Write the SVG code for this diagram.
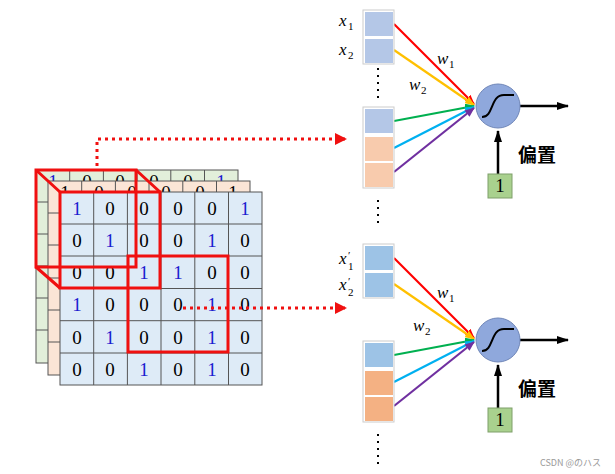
<svg xmlns="http://www.w3.org/2000/svg" width="615" height="474" viewBox="0 0 615 474">
<defs>
<style>
.d{font-family:"Liberation Serif",serif;font-size:19px;text-anchor:middle}
.b{fill:#1a1ad0}
.g{stroke:#555;stroke-width:1}
.v{font-family:"Liberation Serif",serif;font-style:italic;font-size:17px}
.s{font-family:"Liberation Serif",serif;font-size:11px}
.cn{font-family:"Noto Sans CJK SC",sans-serif;font-size:19px;font-weight:bold}
.rd{fill:none;stroke:#f01010;stroke-width:3}
.dot{fill:none;stroke:#f01010;stroke-width:3;stroke-dasharray:3 4}
</style>
<marker id="ah" markerWidth="10" markerHeight="8" refX="9" refY="4" orient="auto" markerUnits="userSpaceOnUse"><path d="M0,0L10,4L0,8z" fill="context-stroke"/></marker>
<marker id="ab" markerWidth="12" markerHeight="8" refX="11" refY="4" orient="auto" markerUnits="userSpaceOnUse"><path d="M0,0L12,4L0,8z" fill="#000"/></marker>
<marker id="ar" markerWidth="12" markerHeight="12" refX="10" refY="6" orient="auto" markerUnits="userSpaceOnUse"><path d="M0,0L12,6L0,12z" fill="#f01010"/></marker>
</defs>
<g id="grid-back">
<rect x="36" y="170" width="202" height="193" fill="#e2efda" stroke="#555"/>
<g class="g"><path d="M69.7,170V363M103.4,170V363M137,170V363M170.8,170V363M204.5,170V363M36,202H238M36,234H238M36,266H238M36,298H238M36,330H238"/></g>
<text class="d b" x="53" y="188">1</text><text class="d" x="87" y="188">0</text><text class="d" x="120" y="188">0</text><text class="d" x="154" y="188">0</text><text class="d" x="188" y="188">0</text><text class="d b" x="221" y="188">1</text>
</g>
<g id="grid-mid">
<rect x="48" y="181" width="202" height="194" fill="#fbe5d6" stroke="#555"/>
<g class="g"><path d="M81.7,181V375M115.4,181V375M149,181V375M182.8,181V375M216.5,181V375M48,213H250M48,245H250M48,278H250M48,310H250M48,342H250"/></g>
<text class="d" x="65" y="199">1</text><text class="d" x="99" y="199">0</text><text class="d" x="132" y="199">0</text><text class="d" x="166" y="199">0</text><text class="d" x="200" y="199">0</text><text class="d" x="233" y="199">1</text>
</g>
<g id="grid-front">
<rect x="60" y="192" width="202" height="193" fill="#deebf7" stroke="#555"/>
<g class="g"><path d="M93.7,192V385M127.4,192V385M161,192V385M194.8,192V385M228.5,192V385M60,224H262M60,256H262M60,288.5H262M60,320.7H262M60,353H262"/></g>
<text class="d b" x="77" y="215">1</text><text class="d" x="110" y="215">0</text><text class="d" x="144" y="215">0</text><text class="d" x="178" y="215">0</text><text class="d" x="212" y="215">0</text><text class="d b" x="245" y="215">1</text>
<text class="d" x="77" y="247">0</text><text class="d b" x="110" y="247">1</text><text class="d" x="144" y="247">0</text><text class="d" x="178" y="247">0</text><text class="d b" x="212" y="247">1</text><text class="d" x="245" y="247">0</text>
<text class="d" x="77" y="279">0</text><text class="d" x="110" y="279">0</text><text class="d b" x="144" y="279">1</text><text class="d b" x="178" y="279">1</text><text class="d" x="212" y="279">0</text><text class="d" x="245" y="279">0</text>
<text class="d b" x="77" y="311">1</text><text class="d" x="110" y="311">0</text><text class="d" x="144" y="311">0</text><text class="d" x="178" y="311">0</text><text class="d b" x="212" y="311">1</text><text class="d" x="245" y="311">0</text>
<text class="d" x="77" y="344">0</text><text class="d b" x="110" y="344">1</text><text class="d" x="144" y="344">0</text><text class="d" x="178" y="344">0</text><text class="d b" x="212" y="344">1</text><text class="d" x="245" y="344">0</text>
<text class="d" x="77" y="376">0</text><text class="d" x="110" y="376">0</text><text class="d b" x="144" y="376">1</text><text class="d" x="178" y="376">0</text><text class="d b" x="212" y="376">1</text><text class="d" x="245" y="376">0</text>
</g>
<g id="receptive-fields">
<rect class="rd" x="36" y="170" width="100" height="97"/>
<path class="rd" d="M36,170L60,192M136,170L160,192M36,267L60,288"/>
<rect class="rd" x="60" y="192" width="100" height="96"/>
<rect class="rd" x="128" y="256" width="100" height="96"/>
</g>
<g id="connectors">
<path class="dot" d="M97,166V139H345" marker-end="url(#ar)"/>
<path class="dot" d="M183,308H345" marker-end="url(#ar)"/>
<g stroke-width="2.2" fill="none">
<path d="M394,24L474,104" stroke="#ff0000" marker-end="url(#ah)"/>
<path d="M394,50L474,105" stroke="#ffc000" marker-end="url(#ah)"/>
<path d="M394,121L474,106" stroke="#00b050" marker-end="url(#ah)"/>
<path d="M394,148L474,107" stroke="#00b0f0" marker-end="url(#ah)"/>
<path d="M394,172L474,108" stroke="#7030a0" marker-end="url(#ah)"/>
<path d="M394,258L474,338" stroke="#ff0000" marker-end="url(#ah)"/>
<path d="M394,284L474,339" stroke="#ffc000" marker-end="url(#ah)"/>
<path d="M394,355L474,340" stroke="#00b050" marker-end="url(#ah)"/>
<path d="M394,382L474,341" stroke="#00b0f0" marker-end="url(#ah)"/>
<path d="M394,406L474,342" stroke="#7030a0" marker-end="url(#ah)"/>
</g>
<g stroke="#000" stroke-width="2.5">
<path d="M520,106H568" marker-end="url(#ab)"/>
<path d="M498,174V131" marker-end="url(#ab)"/>
<path d="M520,340H568" marker-end="url(#ab)"/>
<path d="M498,408V365" marker-end="url(#ab)"/>
</g>
<g stroke="#000" stroke-width="2" stroke-dasharray="2 5">
<path d="M378,68V102M378,200V228M378,434V466"/>
</g>
</g>
<g id="input-top">
<rect x="363" y="10" width="31" height="54" fill="#fff" stroke="#ccc"/>
<rect x="365" y="12" width="28" height="24" fill="#b4c7e7"/>
<rect x="365" y="39" width="28" height="24" fill="#b4c7e7"/>
<text class="v" x="339" y="26">x</text><text class="s" x="348" y="30">1</text>
<text class="v" x="339" y="55">x</text><text class="s" x="348" y="59">2</text>
<rect x="363" y="107" width="31" height="81" fill="#fff" stroke="#ccc"/>
<rect x="365" y="109" width="28" height="24" fill="#b4c7e7"/>
<rect x="365" y="137" width="28" height="24" fill="#f8cbad"/>
<rect x="365" y="163" width="28" height="24" fill="#f8cbad"/>
<text class="v" x="437" y="64">w</text><text class="s" x="449" y="68">1</text>
<text class="v" x="409" y="90">w</text><text class="s" x="421" y="94">2</text>
</g>
<g id="neuron-top">
<circle cx="498" cy="106" r="22" fill="#8fa8dc" stroke="#6f86b8"/>
<path d="M482,117C494,117 490,95 504,95H514" fill="none" stroke="#000" stroke-width="2"/>
<rect x="488" y="174" width="24" height="24" fill="#a9d18e" stroke="#7f9f6a"/>
<text class="d" x="500" y="192" font-size="15">1</text>
<text class="cn" x="518" y="162">偏置</text>
</g>
<g id="input-bottom">
<rect x="363" y="244" width="31" height="54" fill="#fff" stroke="#ccc"/>
<rect x="365" y="246" width="28" height="24" fill="#9dc3e6"/>
<rect x="365" y="273" width="28" height="24" fill="#9dc3e6"/>
<text class="v" x="339" y="264">x</text><text class="s" x="348" y="259">′</text><text class="s" x="348" y="270">1</text>
<text class="v" x="339" y="290">x</text><text class="s" x="348" y="285">′</text><text class="s" x="348" y="296">2</text>
<rect x="363" y="341" width="31" height="81" fill="#fff" stroke="#ccc"/>
<rect x="365" y="343" width="28" height="24" fill="#9dc3e6"/>
<rect x="365" y="371" width="28" height="24" fill="#f4b183"/>
<rect x="365" y="397" width="28" height="24" fill="#f4b183"/>
<text class="v" x="437" y="298">w</text><text class="s" x="449" y="302">1</text>
<text class="v" x="413" y="331">w</text><text class="s" x="425" y="335">2</text>
</g>
<g id="neuron-bottom">
<circle cx="498" cy="340" r="22" fill="#8fa8dc" stroke="#6f86b8"/>
<path d="M482,351C494,351 490,329 504,329H514" fill="none" stroke="#000" stroke-width="2"/>
<rect x="488" y="408" width="24" height="24" fill="#a9d18e" stroke="#7f9f6a"/>
<text class="d" x="500" y="426" font-size="15">1</text>
<text class="cn" x="518" y="396">偏置</text>
</g>
<text x="540" y="466" font-family="'Noto Sans CJK JP',sans-serif" font-size="9" fill="#999">CSDN @のハス</text>
</svg>
